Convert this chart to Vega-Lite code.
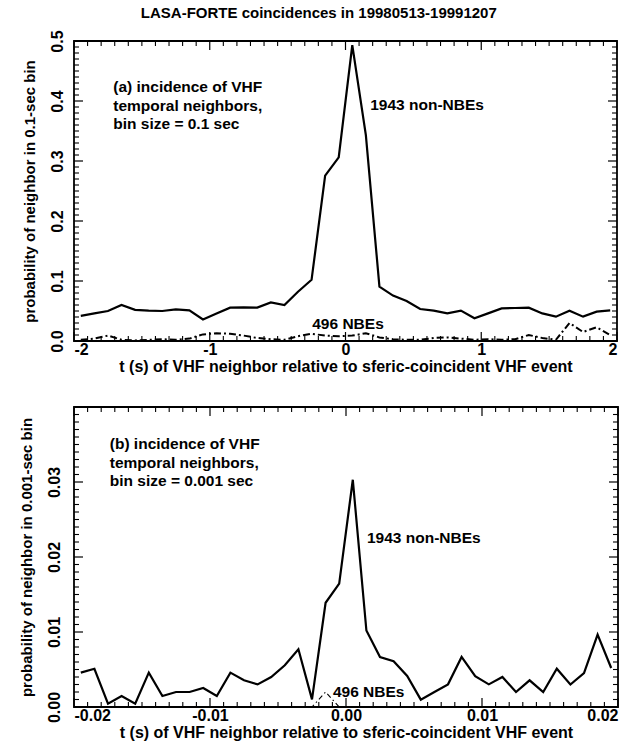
{
  "$schema": "https://vega.github.io/schema/vega-lite/v6.json",
  "padding": {"left": 18, "top": 5, "right": 5, "bottom": 0},
  "title": {"text": "LASA-FORTE coincidences in 19980513-19991207", "fontSize": 15, "font": "Liberation Sans", "fontWeight": "bold", "anchor": "middle", "offset": 8, "color": "black"},
  "spacing": 30,
  "datasets": {
    "a": [
      {"t": -1.95, "p": 0.042, "series": "non-NBE"},
      {"t": -1.85, "p": 0.046, "series": "non-NBE"},
      {"t": -1.75, "p": 0.050, "series": "non-NBE"},
      {"t": -1.65, "p": 0.060, "series": "non-NBE"},
      {"t": -1.55, "p": 0.052, "series": "non-NBE"},
      {"t": -1.45, "p": 0.0505, "series": "non-NBE"},
      {"t": -1.35, "p": 0.050, "series": "non-NBE"},
      {"t": -1.25, "p": 0.0527, "series": "non-NBE"},
      {"t": -1.15, "p": 0.051, "series": "non-NBE"},
      {"t": -1.05, "p": 0.036, "series": "non-NBE"},
      {"t": -0.95, "p": 0.046, "series": "non-NBE"},
      {"t": -0.85, "p": 0.0556, "series": "non-NBE"},
      {"t": -0.75, "p": 0.056, "series": "non-NBE"},
      {"t": -0.65, "p": 0.0556, "series": "non-NBE"},
      {"t": -0.55, "p": 0.0644, "series": "non-NBE"},
      {"t": -0.45, "p": 0.060, "series": "non-NBE"},
      {"t": -0.35, "p": 0.082, "series": "non-NBE"},
      {"t": -0.25, "p": 0.102, "series": "non-NBE"},
      {"t": -0.15, "p": 0.2756, "series": "non-NBE"},
      {"t": -0.05, "p": 0.306, "series": "non-NBE"},
      {"t": 0.05, "p": 0.493, "series": "non-NBE"},
      {"t": 0.15, "p": 0.343, "series": "non-NBE"},
      {"t": 0.25, "p": 0.0906, "series": "non-NBE"},
      {"t": 0.35, "p": 0.0756, "series": "non-NBE"},
      {"t": 0.45, "p": 0.0667, "series": "non-NBE"},
      {"t": 0.55, "p": 0.0533, "series": "non-NBE"},
      {"t": 0.65, "p": 0.0506, "series": "non-NBE"},
      {"t": 0.75, "p": 0.046, "series": "non-NBE"},
      {"t": 0.85, "p": 0.0506, "series": "non-NBE"},
      {"t": 0.95, "p": 0.0378, "series": "non-NBE"},
      {"t": 1.05, "p": 0.046, "series": "non-NBE"},
      {"t": 1.15, "p": 0.0544, "series": "non-NBE"},
      {"t": 1.25, "p": 0.055, "series": "non-NBE"},
      {"t": 1.35, "p": 0.0556, "series": "non-NBE"},
      {"t": 1.45, "p": 0.046, "series": "non-NBE"},
      {"t": 1.55, "p": 0.0406, "series": "non-NBE"},
      {"t": 1.65, "p": 0.0506, "series": "non-NBE"},
      {"t": 1.75, "p": 0.0406, "series": "non-NBE"},
      {"t": 1.85, "p": 0.049, "series": "non-NBE"},
      {"t": 1.95, "p": 0.051, "series": "non-NBE"},
      {"t": -1.95, "p": 0.002, "series": "NBE"},
      {"t": -1.85, "p": 0.004, "series": "NBE"},
      {"t": -1.75, "p": 0.009, "series": "NBE"},
      {"t": -1.65, "p": 0.002, "series": "NBE"},
      {"t": -1.55, "p": 0.001, "series": "NBE"},
      {"t": -1.45, "p": 0.002, "series": "NBE"},
      {"t": -1.35, "p": 0.003, "series": "NBE"},
      {"t": -1.25, "p": 0.002, "series": "NBE"},
      {"t": -1.15, "p": 0.004, "series": "NBE"},
      {"t": -1.05, "p": 0.011, "series": "NBE"},
      {"t": -0.95, "p": 0.013, "series": "NBE"},
      {"t": -0.85, "p": 0.012, "series": "NBE"},
      {"t": -0.75, "p": 0.009, "series": "NBE"},
      {"t": -0.65, "p": 0.005, "series": "NBE"},
      {"t": -0.55, "p": 0.003, "series": "NBE"},
      {"t": -0.45, "p": 0.002, "series": "NBE"},
      {"t": -0.35, "p": 0.008, "series": "NBE"},
      {"t": -0.25, "p": 0.012, "series": "NBE"},
      {"t": -0.15, "p": 0.009, "series": "NBE"},
      {"t": -0.05, "p": 0.008, "series": "NBE"},
      {"t": 0.05, "p": 0.009, "series": "NBE"},
      {"t": 0.15, "p": 0.013, "series": "NBE"},
      {"t": 0.25, "p": 0.006, "series": "NBE"},
      {"t": 0.35, "p": 0.003, "series": "NBE"},
      {"t": 0.45, "p": 0.002, "series": "NBE"},
      {"t": 0.55, "p": 0.002, "series": "NBE"},
      {"t": 0.65, "p": 0.005, "series": "NBE"},
      {"t": 0.75, "p": 0.006, "series": "NBE"},
      {"t": 0.85, "p": 0.004, "series": "NBE"},
      {"t": 0.95, "p": 0.002, "series": "NBE"},
      {"t": 1.05, "p": 0.003, "series": "NBE"},
      {"t": 1.15, "p": 0.002, "series": "NBE"},
      {"t": 1.25, "p": 0.003, "series": "NBE"},
      {"t": 1.35, "p": 0.010, "series": "NBE"},
      {"t": 1.45, "p": 0.005, "series": "NBE"},
      {"t": 1.55, "p": 0.002, "series": "NBE"},
      {"t": 1.65, "p": 0.030, "series": "NBE"},
      {"t": 1.75, "p": 0.015, "series": "NBE"},
      {"t": 1.85, "p": 0.023, "series": "NBE"},
      {"t": 1.95, "p": 0.010, "series": "NBE"}
    ],
    "b": [
      {"t": -0.0195, "p": 0.00458, "series": "non-NBE"},
      {"t": -0.0185, "p": 0.0051, "series": "non-NBE"},
      {"t": -0.0175, "p": 0.00044, "series": "non-NBE"},
      {"t": -0.0165, "p": 0.00147, "series": "non-NBE"},
      {"t": -0.0155, "p": 0.00044, "series": "non-NBE"},
      {"t": -0.0145, "p": 0.00458, "series": "non-NBE"},
      {"t": -0.0135, "p": 0.00147, "series": "non-NBE"},
      {"t": -0.0125, "p": 0.002, "series": "non-NBE"},
      {"t": -0.0115, "p": 0.002, "series": "non-NBE"},
      {"t": -0.0105, "p": 0.00253, "series": "non-NBE"},
      {"t": -0.0095, "p": 0.00147, "series": "non-NBE"},
      {"t": -0.0085, "p": 0.00458, "series": "non-NBE"},
      {"t": -0.0075, "p": 0.00356, "series": "non-NBE"},
      {"t": -0.0065, "p": 0.00302, "series": "non-NBE"},
      {"t": -0.0055, "p": 0.004, "series": "non-NBE"},
      {"t": -0.0045, "p": 0.00556, "series": "non-NBE"},
      {"t": -0.0035, "p": 0.00769, "series": "non-NBE"},
      {"t": -0.0025, "p": 0.00102, "series": "non-NBE"},
      {"t": -0.0015, "p": 0.0139, "series": "non-NBE"},
      {"t": -0.0005, "p": 0.01644, "series": "non-NBE"},
      {"t": 0.0005, "p": 0.0303, "series": "non-NBE"},
      {"t": 0.0015, "p": 0.0102, "series": "non-NBE"},
      {"t": 0.0025, "p": 0.00667, "series": "non-NBE"},
      {"t": 0.0035, "p": 0.0061, "series": "non-NBE"},
      {"t": 0.0045, "p": 0.00413, "series": "non-NBE"},
      {"t": 0.0055, "p": 0.00098, "series": "non-NBE"},
      {"t": 0.0065, "p": 0.002, "series": "non-NBE"},
      {"t": 0.0075, "p": 0.00302, "series": "non-NBE"},
      {"t": 0.0085, "p": 0.00667, "series": "non-NBE"},
      {"t": 0.0095, "p": 0.0041, "series": "non-NBE"},
      {"t": 0.0105, "p": 0.00302, "series": "non-NBE"},
      {"t": 0.0115, "p": 0.004, "series": "non-NBE"},
      {"t": 0.0125, "p": 0.002, "series": "non-NBE"},
      {"t": 0.0135, "p": 0.00356, "series": "non-NBE"},
      {"t": 0.0145, "p": 0.002, "series": "non-NBE"},
      {"t": 0.0155, "p": 0.0051, "series": "non-NBE"},
      {"t": 0.0165, "p": 0.003, "series": "non-NBE"},
      {"t": 0.0175, "p": 0.00453, "series": "non-NBE"},
      {"t": 0.0185, "p": 0.00964, "series": "non-NBE"},
      {"t": 0.0195, "p": 0.0052, "series": "non-NBE"},
      {"t": -0.0045, "p": 0, "series": "NBE"},
      {"t": -0.0035, "p": 0, "series": "NBE"},
      {"t": -0.0025, "p": 0, "series": "NBE"},
      {"t": -0.0015, "p": 0.002, "series": "NBE"},
      {"t": -0.0005, "p": 0, "series": "NBE"},
      {"t": 0.0005, "p": 0, "series": "NBE"},
      {"t": 0.0015, "p": 0, "series": "NBE"}
    ],
    "xa_major": [{"v": -2}, {"v": -1}, {"v": 0}, {"v": 1}, {"v": 2}],
    "xa_minor": [{"v": -1.9}, {"v": -1.8}, {"v": -1.7}, {"v": -1.6}, {"v": -1.5}, {"v": -1.4}, {"v": -1.3}, {"v": -1.2}, {"v": -1.1}, {"v": -0.9}, {"v": -0.8}, {"v": -0.7}, {"v": -0.6}, {"v": -0.5}, {"v": -0.4}, {"v": -0.3}, {"v": -0.2}, {"v": -0.1}, {"v": 0.1}, {"v": 0.2}, {"v": 0.3}, {"v": 0.4}, {"v": 0.5}, {"v": 0.6}, {"v": 0.7}, {"v": 0.8}, {"v": 0.9}, {"v": 1.1}, {"v": 1.2}, {"v": 1.3}, {"v": 1.4}, {"v": 1.5}, {"v": 1.6}, {"v": 1.7}, {"v": 1.8}, {"v": 1.9}],
    "ya_major": [{"v": 0.1}, {"v": 0.2}, {"v": 0.3}, {"v": 0.4}],
    "ya_minor": [{"v": 0.01}, {"v": 0.02}, {"v": 0.03}, {"v": 0.04}, {"v": 0.05}, {"v": 0.06}, {"v": 0.07}, {"v": 0.08}, {"v": 0.09}, {"v": 0.11}, {"v": 0.12}, {"v": 0.13}, {"v": 0.14}, {"v": 0.15}, {"v": 0.16}, {"v": 0.17}, {"v": 0.18}, {"v": 0.19}, {"v": 0.21}, {"v": 0.22}, {"v": 0.23}, {"v": 0.24}, {"v": 0.25}, {"v": 0.26}, {"v": 0.27}, {"v": 0.28}, {"v": 0.29}, {"v": 0.31}, {"v": 0.32}, {"v": 0.33}, {"v": 0.34}, {"v": 0.35}, {"v": 0.36}, {"v": 0.37}, {"v": 0.38}, {"v": 0.39}, {"v": 0.41}, {"v": 0.42}, {"v": 0.43}, {"v": 0.44}, {"v": 0.45}, {"v": 0.46}, {"v": 0.47}, {"v": 0.48}, {"v": 0.49}],
    "xb_major": [{"v": -0.02}, {"v": -0.01}, {"v": 0}, {"v": 0.01}, {"v": 0.02}],
    "xb_minor": [{"v": -0.019}, {"v": -0.018}, {"v": -0.017}, {"v": -0.016}, {"v": -0.015}, {"v": -0.014}, {"v": -0.013}, {"v": -0.012}, {"v": -0.011}, {"v": -0.009}, {"v": -0.008}, {"v": -0.007}, {"v": -0.006}, {"v": -0.005}, {"v": -0.004}, {"v": -0.003}, {"v": -0.002}, {"v": -0.001}, {"v": 0.001}, {"v": 0.002}, {"v": 0.003}, {"v": 0.004}, {"v": 0.005}, {"v": 0.006}, {"v": 0.007}, {"v": 0.008}, {"v": 0.009}, {"v": 0.011}, {"v": 0.012}, {"v": 0.013}, {"v": 0.014}, {"v": 0.015}, {"v": 0.016}, {"v": 0.017}, {"v": 0.018}, {"v": 0.019}],
    "yb_major": [{"v": 0.01}, {"v": 0.02}, {"v": 0.03}],
    "yb_minor": [{"v": 0.001}, {"v": 0.002}, {"v": 0.003}, {"v": 0.004}, {"v": 0.005}, {"v": 0.006}, {"v": 0.007}, {"v": 0.008}, {"v": 0.009}, {"v": 0.011}, {"v": 0.012}, {"v": 0.013}, {"v": 0.014}, {"v": 0.015}, {"v": 0.016}, {"v": 0.017}, {"v": 0.018}, {"v": 0.019}, {"v": 0.021}, {"v": 0.022}, {"v": 0.023}, {"v": 0.024}, {"v": 0.025}, {"v": 0.026}, {"v": 0.027}, {"v": 0.028}, {"v": 0.029}, {"v": 0.031}, {"v": 0.032}, {"v": 0.033}, {"v": 0.034}, {"v": 0.035}, {"v": 0.036}, {"v": 0.037}, {"v": 0.038}, {"v": 0.039}]
  },
  "vconcat": [
    {
      "width": 543,
      "height": 300,
      "layer": [
        {
          "data": {"name": "a"},
          "transform": [{"filter": "datum.series === 'non-NBE'"}],
          "mark": {"type": "line", "color": "black", "strokeWidth": 2.2},
          "encoding": {
            "x": {"field": "t", "type": "quantitative", "scale": {"domain": [-2, 2], "nice": false, "zero": false},
              "axis": {"orient": "bottom", "values": [-2, -1, 0, 1, 2], "ticks": false, "labelPadding": 0, "labelExpr": "replace(format(datum.value, 'd'), '\u2212', '-')", "title": "t (s) of VHF neighbor relative to sferic-coincident VHF event", "titlePadding": 1}},
            "y": {"field": "p", "type": "quantitative", "scale": {"domain": [0, 0.5], "nice": false, "zero": false},
              "axis": {"orient": "left", "values": [0, 0.1, 0.2, 0.3, 0.4, 0.5], "format": ".1f", "ticks": false, "labelPadding": 9, "labelAngle": -90, "labelAlign": "center", "labelBaseline": "bottom", "title": "probability of neighbor in 0.1-sec bin", "titlePadding": 12, "titleFontSize": 15}}
          }
        },
        {
          "data": {"name": "a"},
          "transform": [{"filter": "datum.series === 'NBE'"}],
          "mark": {"type": "line", "color": "black", "strokeWidth": 2, "strokeDash": [7, 3, 2, 3]},
          "encoding": {
            "x": {"field": "t", "type": "quantitative"},
            "y": {"field": "p", "type": "quantitative"}
          }
        },
        {
          "data": {"name": "xa_major"},
          "mark": {"type": "rule", "color": "black", "strokeWidth": 1.2},
          "encoding": {"x": {"field": "v", "type": "quantitative"}, "y": {"datum": 0, "type": "quantitative"}, "y2": {"datum": 0.015}}
        },
        {
          "data": {"name": "xa_major"},
          "mark": {"type": "rule", "color": "black", "strokeWidth": 1.2},
          "encoding": {"x": {"field": "v", "type": "quantitative"}, "y": {"datum": 0.5, "type": "quantitative"}, "y2": {"datum": 0.485}}
        },
        {
          "data": {"name": "xa_minor"},
          "mark": {"type": "rule", "color": "black", "strokeWidth": 1.1},
          "encoding": {"x": {"field": "v", "type": "quantitative"}, "y": {"datum": 0, "type": "quantitative"}, "y2": {"datum": 0.0083}}
        },
        {
          "data": {"name": "xa_minor"},
          "mark": {"type": "rule", "color": "black", "strokeWidth": 1.1},
          "encoding": {"x": {"field": "v", "type": "quantitative"}, "y": {"datum": 0.5, "type": "quantitative"}, "y2": {"datum": 0.4917}}
        },
        {
          "data": {"name": "ya_major"},
          "mark": {"type": "rule", "color": "black", "strokeWidth": 1.2},
          "encoding": {"y": {"field": "v", "type": "quantitative"}, "x": {"datum": -2, "type": "quantitative"}, "x2": {"datum": -1.9337}}
        },
        {
          "data": {"name": "ya_major"},
          "mark": {"type": "rule", "color": "black", "strokeWidth": 1.2},
          "encoding": {"y": {"field": "v", "type": "quantitative"}, "x": {"datum": 2, "type": "quantitative"}, "x2": {"datum": 1.9337}}
        },
        {
          "data": {"name": "ya_minor"},
          "mark": {"type": "rule", "color": "black", "strokeWidth": 1.1},
          "encoding": {"y": {"field": "v", "type": "quantitative"}, "x": {"datum": -2, "type": "quantitative"}, "x2": {"datum": -1.9632}}
        },
        {
          "data": {"name": "ya_minor"},
          "mark": {"type": "rule", "color": "black", "strokeWidth": 1.1},
          "encoding": {"y": {"field": "v", "type": "quantitative"}, "x": {"datum": 2, "type": "quantitative"}, "x2": {"datum": 1.9632}}
        },
        {
          "data": {"values": [{}]},
          "mark": {"type": "text", "align": "left", "baseline": "alphabetic", "lineHeight": 18.3, "text": ["(a) incidence of VHF", "temporal neighbors,", "bin size = 0.1 sec"]},
          "encoding": {
            "x": {"datum": -1.711, "type": "quantitative"},
            "y": {"datum": 0.4143, "type": "quantitative"}
          }
        },
        {
          "data": {"values": [{}]},
          "mark": {"type": "text", "align": "left", "baseline": "middle", "text": "1943 non-NBEs"},
          "encoding": {
            "x": {"datum": 0.182, "type": "quantitative"},
            "y": {"datum": 0.393, "type": "quantitative"}
          }
        },
        {
          "data": {"values": [{}]},
          "mark": {"type": "text", "align": "left", "baseline": "middle", "text": "496 NBEs"},
          "encoding": {
            "x": {"datum": -0.245, "type": "quantitative"},
            "y": {"datum": 0.0283, "type": "quantitative"}
          }
        }
      ]
    },
    {
      "width": 544,
      "height": 300,
      "layer": [
        {
          "data": {"name": "b"},
          "transform": [{"filter": "datum.series === 'non-NBE'"}],
          "mark": {"type": "line", "color": "black", "strokeWidth": 2.2},
          "encoding": {
            "x": {"field": "t", "type": "quantitative", "scale": {"domain": [-0.02, 0.02], "nice": false, "zero": false},
              "axis": {"orient": "bottom", "values": [-0.02, -0.01, 0, 0.01, 0.02], "ticks": false, "labelPadding": 0, "labelExpr": "replace(format(datum.value, '.2f'), '\u2212', '-')", "title": "t (s) of VHF neighbor relative to sferic-coincident VHF event", "titlePadding": 1}},
            "y": {"field": "p", "type": "quantitative", "scale": {"domain": [0, 0.04], "nice": false, "zero": false},
              "axis": {"orient": "left", "values": [0, 0.01, 0.02, 0.03], "format": ".2f", "ticks": false, "labelPadding": 12, "labelAngle": -90, "labelAlign": "center", "labelBaseline": "bottom", "title": "probability of neighbor in 0.001-sec bin", "titlePadding": 12, "titleFontSize": 15}}
          }
        },
        {
          "data": {"name": "b"},
          "transform": [{"filter": "datum.series === 'NBE'"}],
          "mark": {"type": "line", "color": "black", "strokeWidth": 1.1, "strokeDash": [5, 3, 1.5, 3]},
          "encoding": {
            "x": {"field": "t", "type": "quantitative"},
            "y": {"field": "p", "type": "quantitative"}
          }
        },
        {
          "data": {"name": "xb_major"},
          "mark": {"type": "rule", "color": "black", "strokeWidth": 1.2},
          "encoding": {"x": {"field": "v", "type": "quantitative"}, "y": {"datum": 0, "type": "quantitative"}, "y2": {"datum": 0.0012}}
        },
        {
          "data": {"name": "xb_major"},
          "mark": {"type": "rule", "color": "black", "strokeWidth": 1.2},
          "encoding": {"x": {"field": "v", "type": "quantitative"}, "y": {"datum": 0.04, "type": "quantitative"}, "y2": {"datum": 0.0388}}
        },
        {
          "data": {"name": "xb_minor"},
          "mark": {"type": "rule", "color": "black", "strokeWidth": 1.1},
          "encoding": {"x": {"field": "v", "type": "quantitative"}, "y": {"datum": 0, "type": "quantitative"}, "y2": {"datum": 0.00067}}
        },
        {
          "data": {"name": "xb_minor"},
          "mark": {"type": "rule", "color": "black", "strokeWidth": 1.1},
          "encoding": {"x": {"field": "v", "type": "quantitative"}, "y": {"datum": 0.04, "type": "quantitative"}, "y2": {"datum": 0.03933}}
        },
        {
          "data": {"name": "yb_major"},
          "mark": {"type": "rule", "color": "black", "strokeWidth": 1.2},
          "encoding": {"y": {"field": "v", "type": "quantitative"}, "x": {"datum": -0.02, "type": "quantitative"}, "x2": {"datum": -0.019338}}
        },
        {
          "data": {"name": "yb_major"},
          "mark": {"type": "rule", "color": "black", "strokeWidth": 1.2},
          "encoding": {"y": {"field": "v", "type": "quantitative"}, "x": {"datum": 0.02, "type": "quantitative"}, "x2": {"datum": 0.019338}}
        },
        {
          "data": {"name": "yb_minor"},
          "mark": {"type": "rule", "color": "black", "strokeWidth": 1.1},
          "encoding": {"y": {"field": "v", "type": "quantitative"}, "x": {"datum": -0.02, "type": "quantitative"}, "x2": {"datum": -0.019632}}
        },
        {
          "data": {"name": "yb_minor"},
          "mark": {"type": "rule", "color": "black", "strokeWidth": 1.1},
          "encoding": {"y": {"field": "v", "type": "quantitative"}, "x": {"datum": 0.02, "type": "quantitative"}, "x2": {"datum": 0.019632}}
        },
        {
          "data": {"values": [{}]},
          "mark": {"type": "text", "align": "left", "baseline": "alphabetic", "lineHeight": 18.3, "text": ["(b) incidence of VHF", "temporal neighbors,", "bin size = 0.001 sec"]},
          "encoding": {
            "x": {"datum": -0.01737, "type": "quantitative"},
            "y": {"datum": 0.03435, "type": "quantitative"}
          }
        },
        {
          "data": {"values": [{}]},
          "mark": {"type": "text", "align": "left", "baseline": "middle", "text": "1943 non-NBEs"},
          "encoding": {
            "x": {"datum": 0.00154, "type": "quantitative"},
            "y": {"datum": 0.02253, "type": "quantitative"}
          }
        },
        {
          "data": {"values": [{}]},
          "mark": {"type": "text", "align": "left", "baseline": "middle", "text": "496 NBEs"},
          "encoding": {
            "x": {"datum": -0.00096, "type": "quantitative"},
            "y": {"datum": 0.002, "type": "quantitative"}
          }
        }
      ]
    }
  ],
  "config": {
    "font": "Liberation Sans",
    "background": "white",
    "view": {"stroke": "black", "strokeWidth": 1.8},
    "axis": {"domain": false, "grid": false, "labelColor": "black", "titleColor": "black", "labelFont": "Liberation Sans", "labelFontWeight": "bold", "labelFontSize": 16, "titleFont": "Liberation Sans", "titleFontWeight": "bold", "titleFontSize": 16},
    "text": {"font": "Liberation Sans", "fontWeight": "bold", "fontSize": 15.5, "color": "black"}
  }
}
